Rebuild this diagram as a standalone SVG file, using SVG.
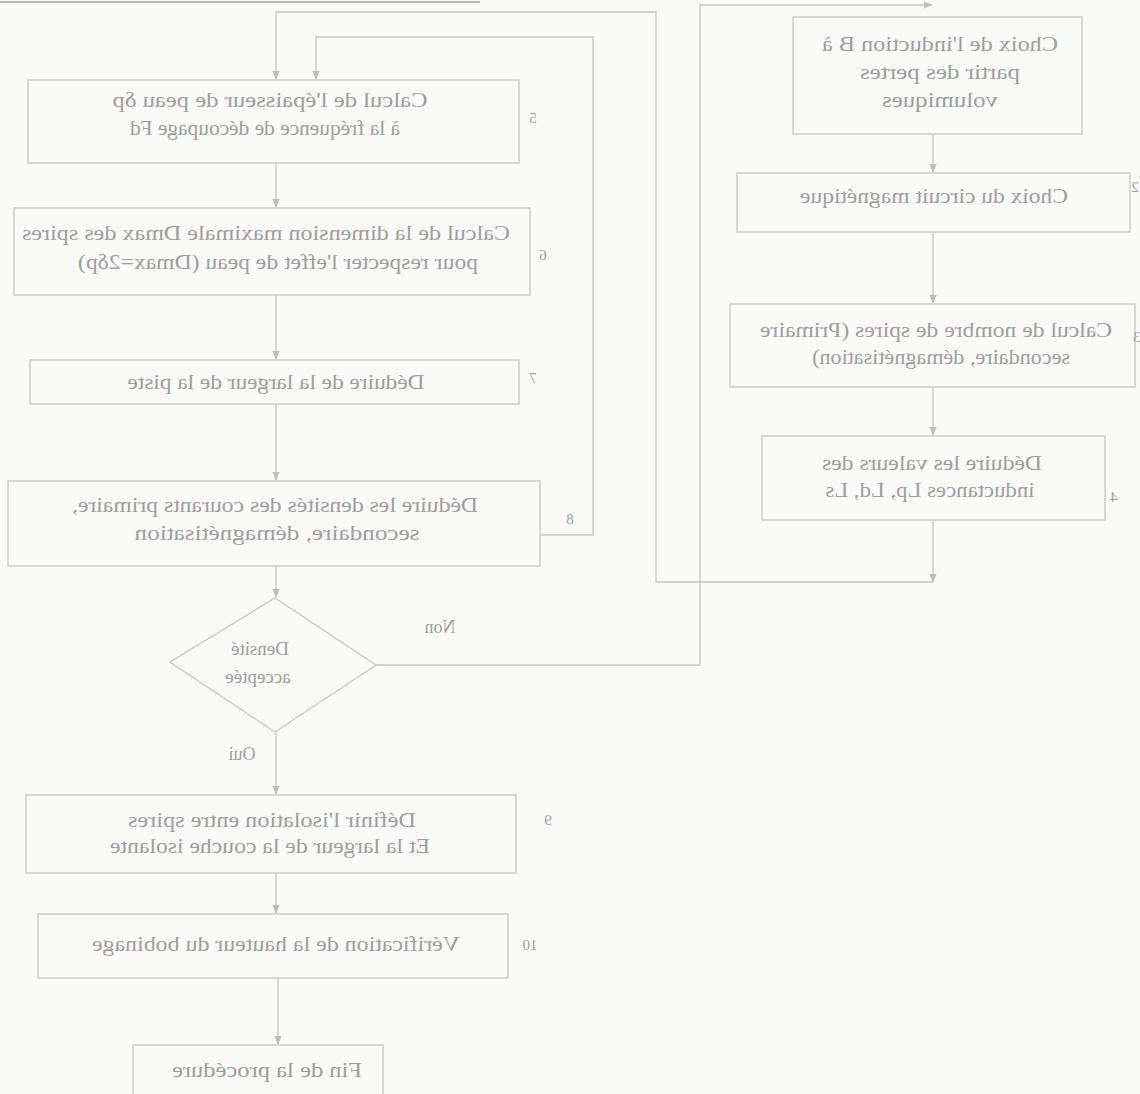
<svg xmlns="http://www.w3.org/2000/svg" width="1140" height="1094" viewBox="0 0 1140 1094">
  <style>
    .box { fill: none; stroke: #c6c6c6; stroke-width: 1.3; }
    .wire { fill: none; stroke: #c6c6c6; stroke-width: 1.3; }
    .arr { marker-end: url(#head); }
    text { font-family: "Liberation Serif", "Times New Roman", serif; fill: #9e9e9e; }
    .lbl { font-size: 22px; text-anchor: middle; }
    .num { font-size: 15px; text-anchor: middle; }
    /* glyphs are drawn reversed, as printed on the sheet */
    .rev { transform: scale(-1, 1); }
  </style>
  <defs>
    <marker id="head" viewBox="0 0 10 10" refX="9" refY="5" markerWidth="9" markerHeight="9" markerUnits="userSpaceOnUse" orient="auto">
      <path d="M0,1 L10,5 L0,9 Z" fill="#bdbdbd"/>
    </marker>
  </defs>

  <rect x="0" y="0" width="1140" height="1094" fill="#fafaf8"/>
  <!-- sheet edge -->
  <line x1="0" y1="2" x2="480" y2="2" stroke="#b8b8b8" stroke-width="2"/>

  <g id="connectors">
    <!-- left column -->
    <line class="wire arr" x1="276" y1="163" x2="276" y2="207"/>
    <line class="wire arr" x1="276" y1="295" x2="276" y2="359"/>
    <line class="wire arr" x1="276" y1="404" x2="276" y2="480"/>
    <line class="wire arr" x1="276" y1="566" x2="276" y2="597"/>
    <line class="wire arr" x1="276" y1="732" x2="276" y2="794"/>
    <line class="wire arr" x1="276" y1="873" x2="276" y2="913"/>
    <line class="wire arr" x1="278" y1="978" x2="278" y2="1044"/>
    <!-- loop back from step 8 -->
    <polyline class="wire arr" points="541,535 593,535 593,37 316,37 316,79"/>
    <!-- link from step 4 to step 5 -->
    <polyline class="wire arr" points="933,520 933,582"/>
    <polyline class="wire arr" points="933,582 656,582 656,12 276,12 276,79"/>
    <!-- "Non" branch back to step 1 -->
    <polyline class="wire arr" points="376,665 700,665 700,5 932,5"/>
    <!-- right column -->
    <line class="wire arr" x1="933" y1="134" x2="933" y2="172"/>
    <line class="wire arr" x1="933" y1="232" x2="933" y2="303"/>
    <line class="wire arr" x1="933" y1="387" x2="933" y2="435"/>
    <text class="num rev" x="-570" y="524">8</text>
    <text class="lbl rev" x="-440" y="633" style="font-size:18px">Non</text>
    <text class="lbl rev" x="-242" y="760" style="font-size:18px">Oui</text>
  </g>

  <g id="step1">
    <rect class="box" x="793" y="17" width="289" height="117"/>
    <text class="lbl rev" x="-940" y="51" textLength="236" lengthAdjust="spacingAndGlyphs">Choix de l'induction B à</text>
    <text class="lbl rev" x="-940" y="79" textLength="160" lengthAdjust="spacingAndGlyphs">partir des pertes</text>
    <text class="lbl rev" x="-940" y="107" textLength="116" lengthAdjust="spacingAndGlyphs">volumiques</text>
  </g>

  <g id="step2">
    <rect class="box" x="737" y="173" width="393" height="59"/>
    <text class="lbl rev" x="-934" y="203" textLength="268" lengthAdjust="spacingAndGlyphs">Choix du circuit magnétique</text>
    <text class="num rev" x="-1135" y="192">2</text>
  </g>

  <g id="step3">
    <rect class="box" x="730" y="304" width="405" height="83"/>
    <text class="lbl rev" x="-936" y="337" textLength="352" lengthAdjust="spacingAndGlyphs">Calcul de nombre de spires (Primaire</text>
    <text class="lbl rev" x="-941" y="364" textLength="258" lengthAdjust="spacingAndGlyphs">secondaire, démagnétisation)</text>
    <text class="num rev" x="-1137" y="342">3</text>
  </g>

  <g id="step4">
    <rect class="box" x="762" y="436" width="343" height="84"/>
    <text class="lbl rev" x="-932" y="470" textLength="220" lengthAdjust="spacingAndGlyphs">Déduire les valeurs des</text>
    <text class="lbl rev" x="-930" y="497" textLength="209" lengthAdjust="spacingAndGlyphs">inductances Lp, Ld, Ls</text>
    <text class="num rev" x="-1114" y="502">4</text>
  </g>

  <g id="step5">
    <rect class="box" x="28" y="80" width="491" height="83"/>
    <text class="lbl rev" x="-270" y="107" textLength="315" lengthAdjust="spacingAndGlyphs">Calcul de l'épaisseur de peau δp</text>
    <text class="lbl rev" x="-265" y="135" textLength="270" lengthAdjust="spacingAndGlyphs">à la fréquence de découpage Fd</text>
    <text class="num rev" x="-533" y="123">5</text>
  </g>

  <g id="step6">
    <rect class="box" x="14" y="208" width="516" height="87"/>
    <text class="lbl rev" x="-266" y="240" textLength="488" lengthAdjust="spacingAndGlyphs">Calcul de la dimension maximale Dmax des spires</text>
    <text class="lbl rev" x="-278" y="269" textLength="400" lengthAdjust="spacingAndGlyphs">pour respecter l'effet de peau (Dmax=2δp)</text>
    <text class="num rev" x="-543" y="260">6</text>
  </g>

  <g id="step7">
    <rect class="box" x="30" y="360" width="489" height="44"/>
    <text class="lbl rev" x="-276" y="389" textLength="297" lengthAdjust="spacingAndGlyphs">Déduire de la largeur de la piste</text>
    <text class="num rev" x="-533" y="383">7</text>
  </g>

  <g id="step8">
    <rect class="box" x="8" y="481" width="532" height="85"/>
    <text class="lbl rev" x="-275" y="512" textLength="406" lengthAdjust="spacingAndGlyphs">Déduire les densités des courants primaire,</text>
    <text class="lbl rev" x="-277" y="540" textLength="285" lengthAdjust="spacingAndGlyphs">secondaire, démagnétisation</text>
  </g>

  <g id="decision">
    <polygon class="box" points="275,598 376,665 275,732 170,662"/>
    <text class="lbl rev" x="-260" y="655" style="font-size:19px">Densité</text>
    <text class="lbl rev" x="-258" y="683" style="font-size:19px">acceptée</text>
  </g>

  <g id="step9">
    <rect class="box" x="26" y="795" width="490" height="78"/>
    <text class="lbl rev" x="-272" y="827" textLength="288" lengthAdjust="spacingAndGlyphs">Définir l'isolation entre spires</text>
    <text class="lbl rev" x="-270" y="853" textLength="320" lengthAdjust="spacingAndGlyphs">Et la largeur de la couche isolante</text>
    <text class="num rev" x="-548" y="825">9</text>
  </g>

  <g id="step10">
    <rect class="box" x="38" y="914" width="470" height="64"/>
    <text class="lbl rev" x="-276" y="951" textLength="368" lengthAdjust="spacingAndGlyphs">Vérification de la hauteur du bobinage</text>
    <text class="num rev" x="-530" y="950">10</text>
  </g>

  <g id="end">
    <rect class="box" x="133" y="1045" width="250" height="60"/>
    <text class="lbl rev" x="-267" y="1077" textLength="190" lengthAdjust="spacingAndGlyphs">Fin de la procédure</text>
  </g>
</svg>
